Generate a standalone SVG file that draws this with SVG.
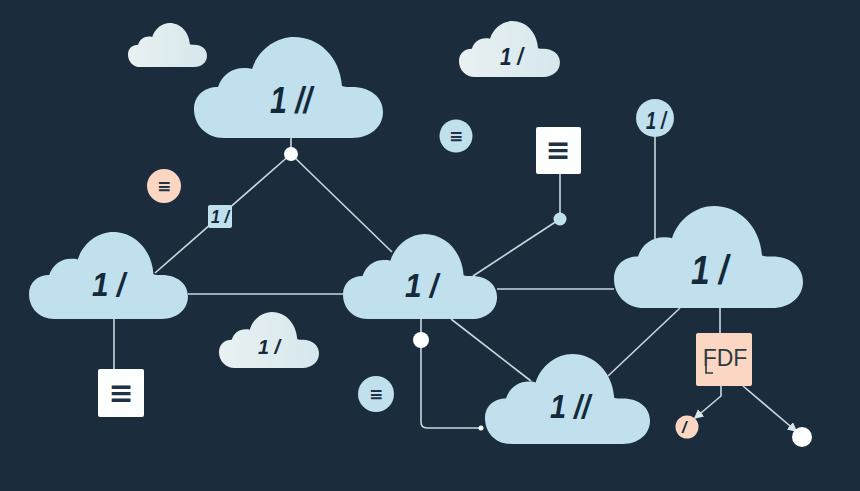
<svg xmlns="http://www.w3.org/2000/svg" width="860" height="491" viewBox="0 0 860 491">
<style>
.c{stroke:#c9d8df;stroke-width:1.6;fill:none}
.m{fill:#14293a;font-family:"Liberation Sans",Arial,sans-serif;font-style:italic;font-weight:700}
.e{fill:#1f3342;font-family:"DejaVu Sans",sans-serif;font-weight:700;text-anchor:middle}
.blue{fill:#bfe0ec}.pale{fill:url(#pale)}.white{fill:#fdfefe}.peach{fill:#fbd6c3}
</style>
<defs>
<linearGradient id="pale" x1="0" y1="0" x2="1" y2="0"><stop offset="0" stop-color="#e9f1f2"/><stop offset="1" stop-color="#d6e7ec"/></linearGradient>
<path id="cloud" d="M30 101C12 101 0 88 0 72C0 58 11 50 24 50C28 38 38 31 50 31C53 31 56 31 58 32C64 13 82 0 100 0C125 0 146 20 148 49C150 50 155 50 158 50C176 50 189 60 189 75C189 90 176 101 158 101Z"/>
<marker id="arr" markerWidth="7" markerHeight="7" refX="5" refY="3" orient="auto"><path d="M0 0L6 3L0 6Z" fill="#dbe6ea"/></marker>
</defs>
<rect width="860" height="491" fill="#1b2d3c"/>
<g id="connectors">
<path class="c" d="M291 138V154L155 273M291 154L392 252M188 294H343M114 319V369M497 289H614M473 276L560 219V174M655 137V240M451 319L531 381M421 319V422Q421 428 427 428H481M608 376L680 308M720 308V333"/>
<path class="c" d="M721 386V396L695 418" marker-end="url(#arr)"/>
<path class="c" d="M743 386L796 431" marker-end="url(#arr)"/>
</g>
<g id="cloud-top"><use href="#cloud" class="blue" transform="translate(194 37)"/><text class="m" x="270" y="113" font-size="36" textLength="42" lengthAdjust="spacingAndGlyphs">1 //</text></g>
<g id="cloud-left"><use href="#cloud" class="blue" transform="translate(29 232) scale(.841 .861)"/><text class="m" x="92" y="296" font-size="33" textLength="33" lengthAdjust="spacingAndGlyphs">1 /</text></g>
<g id="cloud-center"><use href="#cloud" class="blue" transform="translate(343 234) scale(.815 .842)"/><text class="m" x="405" y="297" font-size="33" textLength="33" lengthAdjust="spacingAndGlyphs">1 /</text></g>
<g id="cloud-right"><use href="#cloud" class="blue" transform="translate(614 206) scale(1 1.01)"/><text class="m" x="691" y="284" font-size="40" textLength="37" lengthAdjust="spacingAndGlyphs">1 /</text></g>
<g id="cloud-bottom"><use href="#cloud" class="blue" transform="translate(485 354) scale(.873 .891)"/><text class="m" x="550" y="418" font-size="34" textLength="40" lengthAdjust="spacingAndGlyphs">1 //</text></g>
<g id="cloud-small-1"><use href="#cloud" class="pale" transform="translate(128 23) scale(.418 .436)"/></g>
<g id="cloud-small-2"><use href="#cloud" class="pale" transform="translate(459 21) scale(.534 .554)"/><text class="m" x="500" y="65" font-size="23" textLength="23" lengthAdjust="spacingAndGlyphs">1 /</text></g>
<g id="cloud-small-3"><use href="#cloud" class="pale" transform="translate(219 312) scale(.529 .554)"/><text class="m" x="258" y="354" font-size="21" textLength="22" lengthAdjust="spacingAndGlyphs">1 /</text></g>
<g id="node-top-dot"><circle cx="291" cy="154" r="7" class="white"/></g>
<g id="node-peach-list"><circle cx="164" cy="186" r="17" class="peach"/><text class="e" x="164" y="192" font-size="17">≡</text></g>
<g id="node-small-square"><rect x="208" y="205" width="24" height="23" rx="2" class="blue"/><text class="m" x="211" y="223" font-size="19" textLength="18" lengthAdjust="spacingAndGlyphs">1 /</text></g>
<g id="node-blue-list"><circle cx="456" cy="136" r="16.5" class="blue"/><text class="e" x="456" y="142" font-size="17">≡</text></g>
<g id="node-white-list"><rect x="536" y="127" width="45" height="47" rx="2" class="white"/><text class="e" x="558" y="160" font-size="30">≡</text></g>
<g id="node-blue-dot"><circle cx="560" cy="219" r="6.5" class="blue"/></g>
<g id="node-blue-circle"><circle cx="655" cy="118" r="19" class="blue"/><text class="m" x="646" y="129" font-size="23" textLength="20" lengthAdjust="spacingAndGlyphs">1 /</text></g>
<g id="node-white-list-2"><rect x="98" y="369" width="46" height="48" rx="2" class="white"/><text class="e" x="121" y="403" font-size="30">≡</text></g>
<g id="node-center-dot"><circle cx="421" cy="340" r="8" class="white"/></g>
<g id="node-end-dot"><circle cx="481" cy="428" r="2.5" class="white"/></g>
<g id="node-blue-list-2"><circle cx="376" cy="394" r="18" class="blue"/><text class="e" x="376" y="400" font-size="17">≡</text></g>
<g id="node-fdf"><rect x="696" y="333" width="56" height="53" rx="2" class="peach"/><text x="725" y="366" font-family="'Liberation Sans',Arial,sans-serif" font-size="23" fill="#2c3a45" text-anchor="middle">FDF</text><path d="M706 366V373H713" fill="none" stroke="#2c3a45" stroke-width="1.6"/></g>
<g id="node-peach-small"><circle cx="687" cy="427" r="11.5" class="peach"/><text class="m" x="682" y="433" font-size="16">/</text></g>
<g id="node-white-end"><circle cx="802" cy="437" r="10" class="white"/></g>
</svg>
